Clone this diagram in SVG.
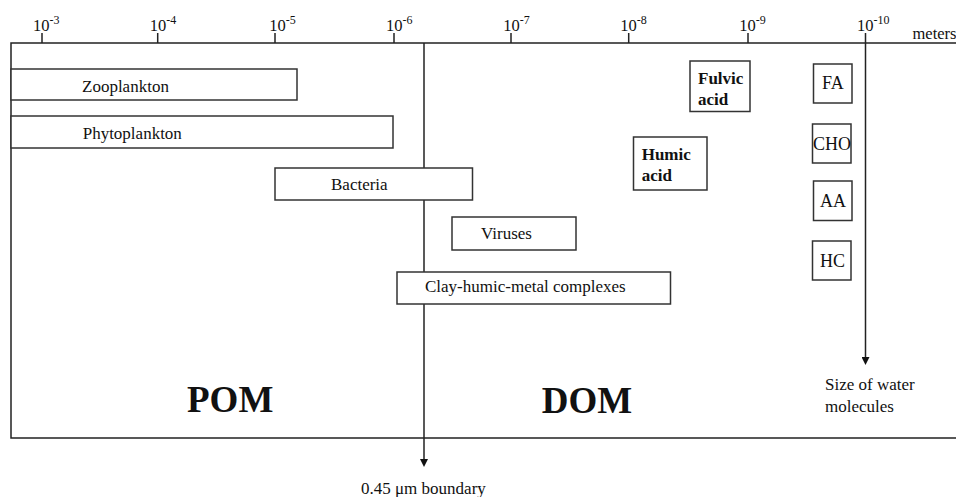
<svg xmlns="http://www.w3.org/2000/svg" width="956" height="497" viewBox="0 0 956 497">
  <style>
    .t { font-family: "Liberation Serif", "Times New Roman", serif; font-size: 17px; fill: #111; }
    .tb { font-family: "Liberation Serif", "Times New Roman", serif; font-size: 17px; font-weight: bold; fill: #111; }
    .big { font-family: "Liberation Serif", "Times New Roman", serif; font-size: 37px; font-weight: bold; fill: #111; }
    .ax { font-family: "Liberation Serif", "Times New Roman", serif; font-size: 16.5px; fill: #111; }
    .sup { font-size: 12px; }
    .mol { font-family: "Liberation Serif", "Times New Roman", serif; font-size: 18px; fill: #111; }
    .box { fill: #fff; stroke: #333; stroke-width: 1.5; }
    .line { fill: none; stroke: #222; stroke-width: 1.5; }
  </style>
  <defs>
    <marker id="arrow" viewBox="0 0 10 10" refX="0" refY="5" markerWidth="8" markerHeight="8" markerUnits="userSpaceOnUse" orient="auto">
      <path d="M0,0 L10,5 L0,10 Z" fill="#111"/>
    </marker>
  </defs>

  <!-- size scale along the top -->
  <g id="axis">
    <path class="line" d="M956 43 H11 V438 H956"/>
    <path class="line" d="M42 33 V43 M157.7 33 V43 M275 33 V43 M394 33 V43 M511 33 V43 M628.7 33 V43 M748 33 V43"/>
    <text class="ax" x="33" y="31">10<tspan class="sup" dy="-7">-3</tspan></text>
    <text class="ax" x="149.7" y="31">10<tspan class="sup" dy="-7">-4</tspan></text>
    <text class="ax" x="269.3" y="31">10<tspan class="sup" dy="-7">-5</tspan></text>
    <text class="ax" x="386" y="31">10<tspan class="sup" dy="-7">-6</tspan></text>
    <text class="ax" x="503.3" y="31">10<tspan class="sup" dy="-7">-7</tspan></text>
    <text class="ax" x="620.3" y="31">10<tspan class="sup" dy="-7">-8</tspan></text>
    <text class="ax" x="739.3" y="31">10<tspan class="sup" dy="-7">-9</tspan></text>
    <text class="ax" x="857" y="31">10<tspan class="sup" dy="-7">-10</tspan></text>
    <text class="ax" x="912.5" y="38.5">meters</text>
  </g>

  <!-- boundary and water-molecule arrows -->
  <g id="connectors">
    <line class="line" x1="424" y1="43" x2="424" y2="459" marker-end="url(#arrow)"/>
    <line class="line" x1="865.5" y1="33" x2="865.5" y2="357" marker-end="url(#arrow)"/>
  </g>

  <g id="zooplankton">
    <rect class="box" x="11" y="69" width="286" height="31"/>
    <text class="t" x="82" y="92">Zooplankton</text>
  </g>
  <g id="phytoplankton">
    <rect class="box" x="11" y="116" width="382" height="32"/>
    <text class="t" x="82.7" y="139">Phytoplankton</text>
  </g>
  <g id="bacteria">
    <rect class="box" x="275" y="168" width="197.5" height="32"/>
    <text class="t" x="331" y="189.5">Bacteria</text>
  </g>
  <g id="viruses">
    <rect class="box" x="452" y="217" width="124" height="33"/>
    <text class="t" x="481" y="238.5">Viruses</text>
  </g>
  <g id="clay-humic-metal">
    <rect class="box" x="397" y="272" width="273.5" height="32"/>
    <text class="t" x="425" y="292">Clay-humic-metal complexes</text>
  </g>
  <g id="fulvic-acid">
    <rect class="box" x="690" y="61" width="60" height="50.5"/>
    <text class="tb" x="698" y="83.5">Fulvic</text>
    <text class="tb" x="698" y="104.5">acid</text>
  </g>
  <g id="humic-acid">
    <rect class="box" x="633.5" y="137" width="73.5" height="53"/>
    <text class="tb" x="641.7" y="159.5">Humic</text>
    <text class="tb" x="641.7" y="181">acid</text>
  </g>
  <g id="fa">
    <rect class="box" x="813.5" y="64" width="38.5" height="39"/>
    <text class="mol" x="822" y="89">FA</text>
  </g>
  <g id="cho">
    <rect class="box" x="812.5" y="124" width="38.5" height="39"/>
    <text class="mol" x="813" y="150">CHO</text>
  </g>
  <g id="aa">
    <rect class="box" x="813.5" y="181" width="38.5" height="39.5"/>
    <text class="mol" x="820" y="207">AA</text>
  </g>
  <g id="hc">
    <rect class="box" x="812.5" y="241" width="38.5" height="39"/>
    <text class="mol" x="820" y="267">HC</text>
  </g>

  <g id="labels">
    <text class="big" x="187" y="412">POM</text>
    <text class="big" x="541.7" y="413">DOM</text>
    <text class="t" x="825" y="390">Size of water</text>
    <text class="t" x="825" y="412">molecules</text>
    <text class="t" x="361" y="494">0.45 μm boundary</text>
  </g>
</svg>
